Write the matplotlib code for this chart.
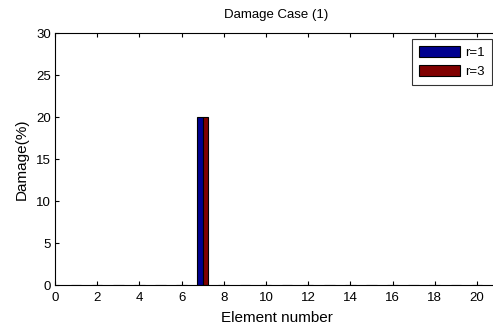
import matplotlib
matplotlib.use("Agg")
import matplotlib.pyplot as plt
import numpy as np

plt.rcParams['font.family'] = ['Liberation Sans', 'DejaVu Sans']

elements = np.arange(1, 21)
damage_r1 = [0, 0, 0, 0, 0, 0, 20, 0, 0, 0, 0, 0, 0, 0, 0, 0, 0, 0, 0, 0]
damage_r3 = [0, 0, 0, 0, 0, 0, 20, 0, 0, 0, 0, 0, 0, 0, 0, 0, 0, 0, 0, 0]
xticks = list(range(0, 21, 2))
yticks = list(range(0, 31, 5))

fig = plt.figure(figsize=(4.93, 3.27), dpi=100)
ax = fig.add_axes([55/493, 42/327, 443/493, 252/327])

w = 0.25
ax.bar(elements - w/2, damage_r1, width=w, color='#00008f', edgecolor='black', linewidth=0.8, label='r=1')
ax.bar(elements + w/2, damage_r3, width=w, color='#800000', edgecolor='black', linewidth=0.8, label='r=3')

ax.set_xlim(0, 21)
ax.set_ylim(0, 30)
ax.set_xticks(xticks)
ax.set_yticks(yticks)
ax.tick_params(direction='in', top=True, right=True, labelsize=9.5, length=3)
ax.tick_params(axis='x', pad=5)
ax.tick_params(axis='y', pad=3)
for s in ax.spines.values():
    s.set_linewidth(0.8)

ax.set_xlabel('Element number', fontsize=11, labelpad=5)
ax.set_ylabel('Damage(%)', fontsize=11, labelpad=5)
ax.set_title('Damage Case (1)', fontsize=9.5, pad=11)

leg = ax.legend(loc='upper right', bbox_to_anchor=(0.986, 0.978), fontsize=9.5,
                frameon=True, fancybox=False, edgecolor='black', handlelength=3.1,
                handleheight=0.95, borderpad=0.55, labelspacing=0.45, handletextpad=0.35,
                borderaxespad=0)
leg.get_frame().set_linewidth(0.8)

fig.savefig('out.png', dpi=100)
